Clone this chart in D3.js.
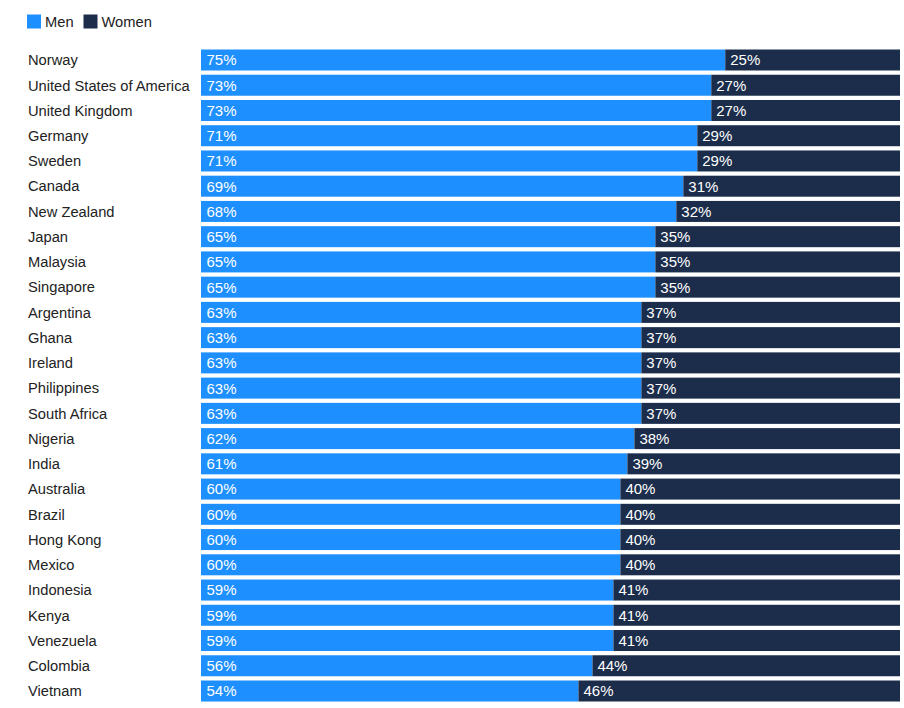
<!DOCTYPE html>
<html>
<head>
<meta charset="utf-8">
<script src="https://cdn.jsdelivr.net/npm/d3@7"></script>
<style>
  body { margin: 0; background: #fff; }
  svg text { font-family: "Liberation Sans", Arial, Helvetica, sans-serif; }
</style>
</head>
<body>
<div id="chart"></div>
<script>
const countries = ["Norway", "United States of America", "United Kingdom", "Germany", "Sweden", "Canada",
  "New Zealand", "Japan", "Malaysia", "Singapore", "Argentina", "Ghana", "Ireland", "Philippines",
  "South Africa", "Nigeria", "India", "Australia", "Brazil", "Hong Kong", "Mexico", "Indonesia",
  "Kenya", "Venezuela", "Colombia", "Vietnam"];
const men = [75, 73, 73, 71, 71, 69, 68, 65, 65, 65, 63, 63, 63, 63, 63, 62, 61, 60, 60, 60, 60, 59, 59, 59, 56, 54];
const women = [25, 27, 27, 29, 29, 31, 32, 35, 35, 35, 37, 37, 37, 37, 37, 38, 39, 40, 40, 40, 40, 41, 41, 41, 44, 46];
const seriesNames = ["Men", "Women"];
const seriesColors = ["#1e8fff", "#1b2d4b"];

const width = 904, height = 708;

const svg = d3.select("#chart")
  .append("svg")
    .attr("width", width)
    .attr("height", height);

// scales
const x = d3.scaleLinear().domain([0, 100]).range([201, 900]);
const y = d3.scaleBand().domain(countries).range([49.5, 701.5]).paddingInner(0.168);

const rows = countries.map((c, i) => ({ country: c, men: men[i], women: women[i] }));

// legend
const legend = svg.append("g");
seriesNames.forEach((name, i) => {
  const lx = i === 0 ? 27 : 83.5;
  legend.append("rect")
    .attr("x", lx).attr("y", 14.5)
    .attr("width", 14).attr("height", 14)
    .attr("fill", seriesColors[i]);
  legend.append("text")
    .attr("x", lx + 18).attr("y", 26.5)
    .attr("font-size", 14.7)
    .attr("fill", "#222")
    .text(name);
});

// country labels
svg.append("g")
  .selectAll("text")
  .data(rows)
  .join("text")
    .attr("x", 28)
    .attr("y", d => y(d.country) + y.bandwidth() / 2)
    .attr("dy", "0.36em")
    .attr("font-size", 14.7)
    .attr("fill", "#222")
    .text(d => d.country);

// bars
const row = svg.append("g")
  .selectAll("g")
  .data(rows)
  .join("g");

row.append("rect")
  .attr("x", x(0))
  .attr("y", d => y(d.country))
  .attr("width", d => x(d.men) - x(0))
  .attr("height", y.bandwidth())
  .attr("fill", seriesColors[0]);

row.append("rect")
  .attr("x", d => x(d.men))
  .attr("y", d => y(d.country))
  .attr("width", d => x(d.men + d.women) - x(d.men))
  .attr("height", y.bandwidth())
  .attr("fill", seriesColors[1]);

row.append("text")
  .attr("x", x(0) + 5.5)
  .attr("y", d => y(d.country) + y.bandwidth() / 2)
  .attr("dy", "0.36em")
  .attr("font-size", 15)
  .attr("fill", "#fff")
  .text(d => d.men + "%");

row.append("text")
  .attr("x", d => x(d.men) + 5)
  .attr("y", d => y(d.country) + y.bandwidth() / 2)
  .attr("dy", "0.36em")
  .attr("font-size", 15)
  .attr("fill", "#fff")
  .text(d => d.women + "%");
</script>
</body>
</html>
